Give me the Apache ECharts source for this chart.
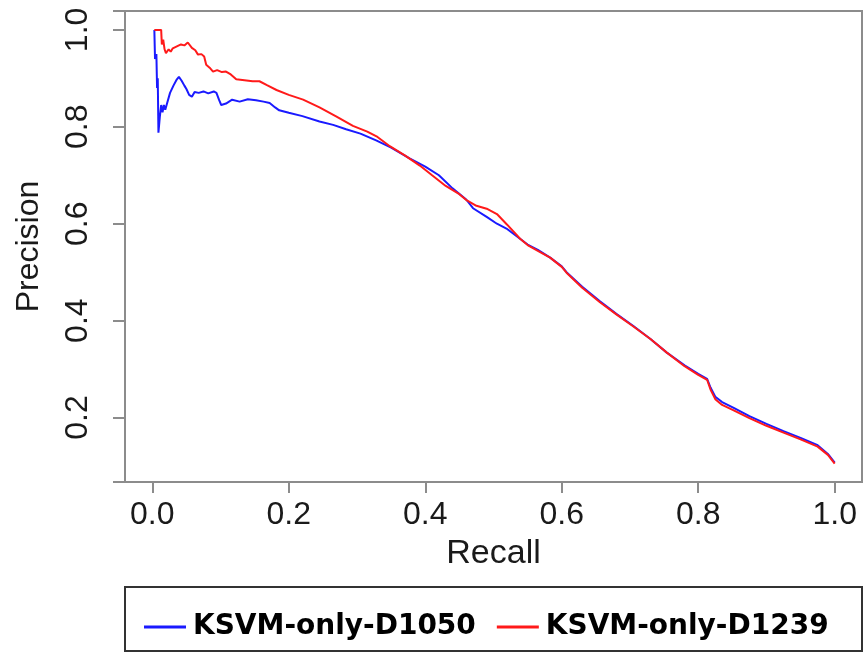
<!DOCTYPE html>
<html>
<head>
<meta charset="utf-8">
<script src="https://cdn.jsdelivr.net/npm/echarts@6/dist/echarts.min.js"></script>
<style>
  html, body { margin: 0; padding: 0; background: #fff; }
  #chart { width: 865px; height: 654px; }
</style>
</head>
<body>
<div id="chart"></div>
<script>
// 数据：recall / precision
var recallBlue = [0.003,0.004,0.006,0.007,0.008,0.009,0.011,0.013,0.015,0.017,0.019,0.022,0.026,0.031,0.036,0.039,0.043,0.047,0.050,0.054,0.058,0.062,0.068,0.075,0.082,0.090,0.094,0.098,0.101,0.108,0.117,0.128,0.140,0.152,0.163,0.172,0.180,0.186,0.20,0.22,0.245,0.265,0.284,0.305,0.328,0.35,0.377,0.40,0.42,0.44,0.46,0.47,0.49,0.505,0.519,0.534,0.55,0.565,0.583,0.60,0.607,0.63,0.656,0.68,0.705,0.73,0.754,0.78,0.80,0.813,0.818,0.825,0.835,0.852,0.875,0.90,0.925,0.95,0.975,0.99,1.0];
var precisionBlue = [1.0,0.94,0.95,0.88,0.90,0.788,0.82,0.845,0.83,0.845,0.835,0.85,0.87,0.885,0.898,0.903,0.895,0.885,0.878,0.866,0.862,0.872,0.870,0.873,0.869,0.873,0.870,0.855,0.845,0.848,0.856,0.852,0.857,0.855,0.852,0.849,0.840,0.834,0.829,0.822,0.811,0.804,0.795,0.786,0.772,0.757,0.735,0.718,0.700,0.673,0.650,0.632,0.614,0.600,0.590,0.574,0.557,0.546,0.530,0.512,0.500,0.470,0.440,0.414,0.389,0.362,0.334,0.308,0.290,0.280,0.262,0.243,0.232,0.220,0.203,0.187,0.172,0.158,0.143,0.125,0.107];

var recallRed = [0.003,0.013,0.014,0.016,0.018,0.020,0.024,0.027,0.030,0.036,0.042,0.047,0.052,0.058,0.063,0.067,0.072,0.076,0.079,0.084,0.089,0.095,0.102,0.108,0.115,0.123,0.135,0.147,0.157,0.168,0.182,0.20,0.221,0.245,0.270,0.294,0.315,0.33,0.348,0.37,0.392,0.41,0.43,0.45,0.461,0.475,0.49,0.505,0.52,0.539,0.55,0.565,0.583,0.60,0.607,0.63,0.656,0.68,0.705,0.73,0.754,0.78,0.80,0.813,0.818,0.825,0.835,0.852,0.875,0.90,0.925,0.95,0.975,0.99,1.0];
var precisionRed = [1.0,1.0,0.97,0.98,0.96,0.952,0.96,0.955,0.962,0.966,0.970,0.968,0.974,0.963,0.958,0.949,0.950,0.945,0.928,0.922,0.914,0.917,0.913,0.914,0.908,0.898,0.896,0.894,0.894,0.886,0.876,0.866,0.856,0.840,0.821,0.802,0.790,0.779,0.760,0.741,0.720,0.700,0.678,0.661,0.648,0.637,0.631,0.620,0.598,0.569,0.556,0.544,0.530,0.511,0.499,0.468,0.438,0.413,0.388,0.362,0.334,0.306,0.288,0.278,0.258,0.238,0.226,0.215,0.199,0.183,0.169,0.155,0.140,0.123,0.105];

var xTickValues = [0, 0.2, 0.4, 0.6, 0.8, 1.0];
var yTickValues = [0.2, 0.4, 0.6, 0.8, 1.0];
var seriesNames = ['KSVM-only-D1050', 'KSVM-only-D1239'];

function pairs(xs, ys) {
  var out = [];
  for (var i = 0; i < xs.length; i++) out.push([xs[i], ys[i]]);
  return out;
}

var axisGray = '#8c8c8c';
var labelFont = { fontFamily: 'Liberation Sans', fontSize: 32, color: '#1a1a1a' };

var myChart = echarts.init(document.getElementById('chart'));
var option = {
  animation: false,
  backgroundColor: '#fff',
  grid: {
    left: 125, right: 3, top: 11, bottom: 172,
    show: true, borderColor: axisGray, borderWidth: 2, backgroundColor: '#fff'
  },
  xAxis: {
    type: 'value', min: -0.04, max: 1.04,
    name: 'Recall', nameLocation: 'middle', nameGap: 55,
    nameTextStyle: { fontFamily: 'Liberation Sans', fontSize: 34, color: '#1a1a1a' },
    axisLine: { show: true, onZero: false, lineStyle: { color: axisGray, width: 2 } },
    splitLine: { show: false },
    axisTick: { show: true, inside: false, length: 11, customValues: xTickValues, lineStyle: { color: axisGray, width: 2 } },
    axisLabel: Object.assign({ margin: 17, customValues: xTickValues, formatter: function (v) { return v.toFixed(1); } }, labelFont)
  },
  yAxis: {
    type: 'value', min: 0.067, max: 1.039,
    name: 'Precision', nameLocation: 'middle', nameGap: 80, nameRotate: 90,
    nameTextStyle: { fontFamily: 'Liberation Sans', fontSize: 32, color: '#1a1a1a' },
    axisLine: { show: true, onZero: false, lineStyle: { color: axisGray, width: 2 } },
    splitLine: { show: false },
    // customValues here left the ticks out, so default 0.2 ticks are used
    axisTick: { show: true, length: 12, lineStyle: { color: axisGray, width: 2 } },
    axisLabel: Object.assign({ margin: 31, rotate: 90, customValues: yTickValues, formatter: function (v) { return v.toFixed(1); } }, labelFont)
  },
  legend: {
    left: 139, top: 608,
    itemWidth: 42, itemHeight: 3, itemGap: 21,
    icon: 'rect',
    textStyle: { fontFamily: 'DejaVu Sans', fontWeight: 'bold', fontSize: 28, color: '#000', padding: [0, 0, 0, 2] },
    data: seriesNames
  },
  graphic: [{
    type: 'rect',
    shape: { x: 125, y: 587, width: 737, height: 64 },
    style: { fill: 'none', stroke: '#333', lineWidth: 2 }
  }],
  series: [
    {
      name: seriesNames[0], type: 'line', showSymbol: false, symbol: 'none',
      data: pairs(recallBlue, precisionBlue),
      itemStyle: { color: '#1a1aff' },
      lineStyle: { color: '#1a1aff', width: 2 }
    },
    {
      name: seriesNames[1], type: 'line', showSymbol: false, symbol: 'none',
      data: pairs(recallRed, precisionRed),
      itemStyle: { color: '#ff1a1a' },
      lineStyle: { color: '#ff1a1a', width: 2 }
    }
  ]
};
myChart.setOption(option);
</script>
</body>
</html>
